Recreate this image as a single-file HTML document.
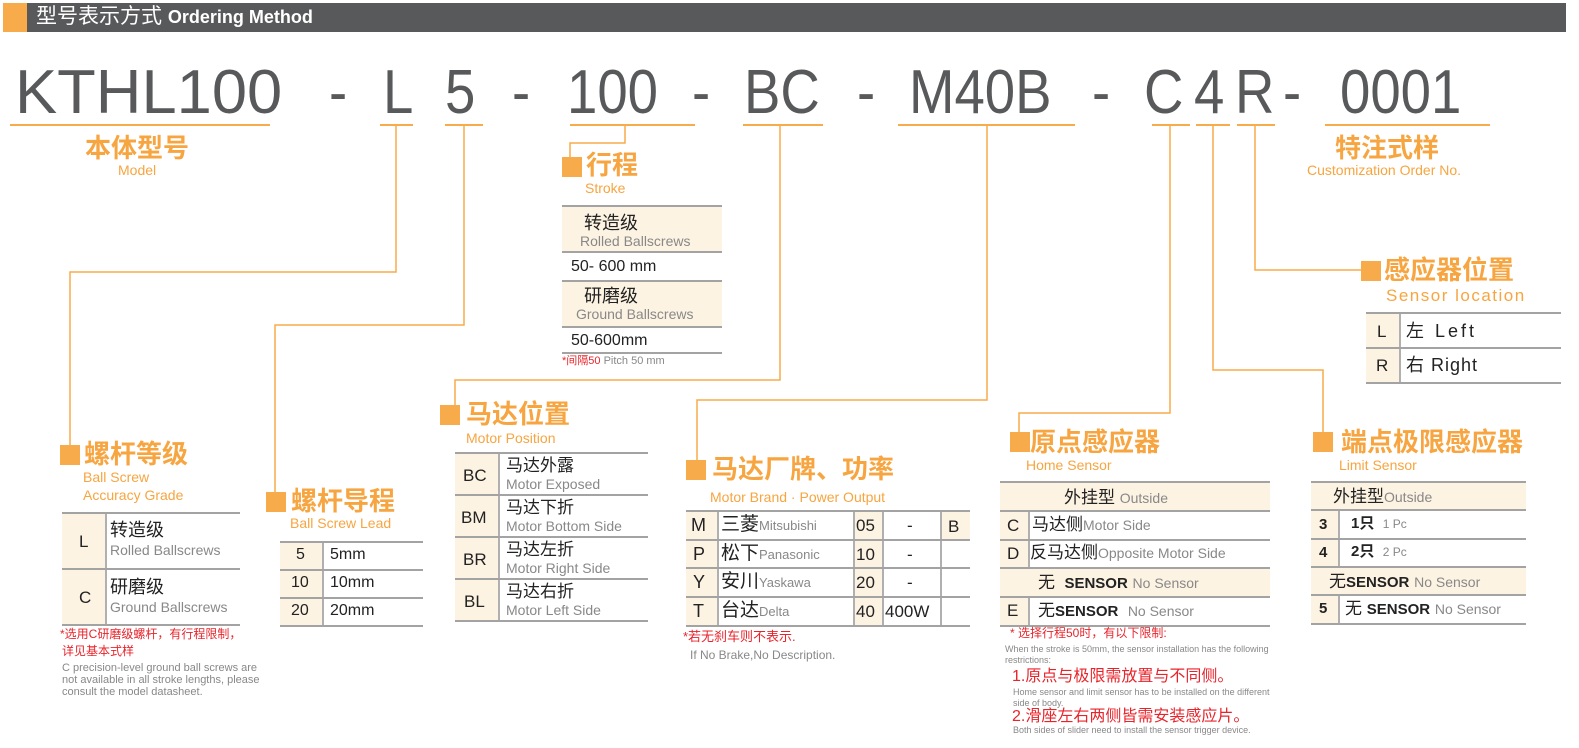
<!DOCTYPE html>
<html><head><meta charset="utf-8"><style>
*{margin:0;padding:0;box-sizing:border-box}
body{width:1579px;height:748px;background:#fff;position:relative;overflow:hidden;font-family:"Liberation Sans","Noto Sans CJK SC",sans-serif}
.t{position:absolute;white-space:nowrap;line-height:1}
.big{font-size:62px;color:#58595b;top:62px;transform:scaleX(0.88);transform-origin:left top}
.h{font-weight:bold;color:#f7a540;font-size:26px}
.e{color:#f7a540;font-size:14px}
.sq{position:absolute;width:20px;height:20px;background:#f8ab4a}
.tb{position:absolute;border-top:2px solid #a3a3a3}
.row{position:absolute;left:0;right:0;border-bottom:2px solid #a3a3a3}
.bg{position:absolute;background:#fdf3e3;top:0;bottom:0}
.vl{position:absolute;top:0;bottom:0;border-left:2px solid #b0b0b0}
.c{position:absolute;white-space:nowrap;line-height:1;color:#222}
.g{color:#888}
.red{color:#e8242b}
.sm{color:#888;font-size:11px;line-height:12px}
</style></head><body>
<div style="position:absolute;left:3px;top:3px;width:24px;height:29px;background:#f8ab4a"></div>
<div style="position:absolute;left:27px;top:3px;width:1539px;height:29px;background:#58595b"></div>
<div class="t" style="left:36px;top:6px;color:#fff;font-size:21px">型号表示方式 <b style="font-size:18px">Ordering Method</b></div>

<div class="t big" style="left:15px;transform:scaleX(1.02)">KTHL100</div>
<div class="t big" style="left:329px">-</div>
<div class="t big" style="left:383px">L</div>
<div class="t big" style="left:445px">5</div>
<div class="t big" style="left:512px">-</div>
<div class="t big" style="left:567px">100</div>
<div class="t big" style="left:692px">-</div>
<div class="t big" style="left:744px">BC</div>
<div class="t big" style="left:857px">-</div>
<div class="t big" style="left:909px">M40B</div>
<div class="t big" style="left:1092px">-</div>
<div class="t big" style="left:1144px">C</div>
<div class="t big" style="left:1194px">4</div>
<div class="t big" style="left:1235px">R</div>
<div class="t big" style="left:1283px">-</div>
<div class="t big" style="left:1340px">0001</div>

<svg width="1579" height="748" style="position:absolute;left:0;top:0" fill="none" stroke="#f8ab4a" stroke-width="2">
<path d="M10 125H270M380 125H413M445 125H483M570 125H695M743 125H823M898 125H1075M1152 125H1190M1196 125H1230M1237 125H1275M1325 125H1490" />
<path d="M396 125V272H70V448" stroke-width="1.5"/>
<path d="M464 125V325H275V492" stroke-width="1.5"/>
<path d="M625 125V143H570V160" stroke-width="1.5"/>
<path d="M780 125V380H455V406" stroke-width="1.5"/>
<path d="M987 125V400H697V462" stroke-width="1.5"/>
<path d="M1170 125V413H1019V434" stroke-width="1.5"/>
<path d="M1213 125V370H1323V434" stroke-width="1.5"/>
<path d="M1255 125V270H1362" stroke-width="1.5"/>
</svg>

<div class="t h" style="left:85px;top:135px">本体型号</div>
<div class="t e" style="left:118px;top:163px">Model</div>
<div class="t h" style="left:1335px;top:135px">特注式样</div>
<div class="t e" style="left:1307px;top:163px">Customization Order No.</div>

<!-- 螺杆等级 -->
<div class="sq" style="left:60px;top:445px"></div>
<div class="t h" style="left:84px;top:441px">螺杆等级</div>
<div class="t e" style="left:83px;top:470px">Ball Screw</div>
<div class="t e" style="left:83px;top:488px">Accuracy Grade</div>
<div class="tb" style="left:62px;top:512px;width:178px;height:114px">
 <div class="bg" style="left:0;width:43px"></div><div class="vl" style="left:43px"></div>
 <div class="row" style="top:0;height:56px"></div><div class="row" style="top:56px;height:56px"></div>
 <div class="c" style="left:17px;top:19px;font-size:17px">L</div>
 <div class="c" style="left:48px;top:7px;font-size:18px">转造级</div>
 <div class="c g" style="left:48px;top:29px;font-size:14px">Rolled Ballscrews</div>
 <div class="c" style="left:17px;top:75px;font-size:17px">C</div>
 <div class="c" style="left:48px;top:64px;font-size:18px">研磨级</div>
 <div class="c g" style="left:48px;top:86px;font-size:14px">Ground Ballscrews</div>
</div>
<div class="t red" style="left:60px;top:628px;font-size:12px">*选用C研磨级螺杆，有行程限制，</div>
<div class="t red" style="left:62px;top:645px;font-size:12px">详见基本式样</div>
<div class="t sm" style="left:62px;top:662px;white-space:normal;width:210px">C precision-level ground ball screws are not available in all stroke lengths, please consult the model datasheet.</div>

<!-- 螺杆导程 -->
<div class="sq" style="left:266px;top:492px"></div>
<div class="t h" style="left:291px;top:488px">螺杆导程</div>
<div class="t e" style="left:290px;top:516px">Ball Screw Lead</div>
<div class="tb" style="left:280px;top:541px;width:143px;height:85px">
 <div class="bg" style="left:0;width:42px"></div><div class="vl" style="left:42px"></div>
 <div class="row" style="top:0;height:28px"></div><div class="row" style="top:28px;height:28px"></div><div class="row" style="top:56px;height:28px"></div>
 <div class="c" style="left:16px;top:4px;font-size:16px">5</div><div class="c" style="left:50px;top:4px;font-size:16px">5mm</div>
 <div class="c" style="left:11px;top:32px;font-size:16px">10</div><div class="c" style="left:50px;top:32px;font-size:16px">10mm</div>
 <div class="c" style="left:11px;top:60px;font-size:16px">20</div><div class="c" style="left:50px;top:60px;font-size:16px">20mm</div>
</div>

<!-- 行程 -->
<div class="sq" style="left:562px;top:157px"></div>
<div class="t h" style="left:586px;top:152px">行程</div>
<div class="t e" style="left:585px;top:181px">Stroke</div>
<div class="tb" style="left:562px;top:205px;width:160px;height:147px">
 <div class="bg" style="left:0;right:0;top:0;height:45px;bottom:auto"></div>
 <div class="bg" style="left:0;right:0;top:75px;height:45px;bottom:auto"></div>
 <div class="row" style="top:0;height:46px"></div><div class="row" style="top:46px;height:29px"></div>
 <div class="row" style="top:75px;height:46px"></div><div class="row" style="top:121px;height:26px"></div>
 <div class="c" style="left:22px;top:7px;font-size:18px">转造级</div>
 <div class="c g" style="left:18px;top:27px;font-size:14px">Rolled Ballscrews</div>
 <div class="c" style="left:9px;top:52px;font-size:16px">50- 600 mm</div>
 <div class="c" style="left:22px;top:80px;font-size:18px">研磨级</div>
 <div class="c g" style="left:14px;top:100px;font-size:14px">Ground Ballscrews</div>
 <div class="c" style="left:9px;top:126px;font-size:16px">50-600mm</div>
</div>
<div class="t" style="left:562px;top:356px;font-size:11px"><span class="red">*间隔50</span> <span class="g">Pitch 50 mm</span></div>

<!-- 马达位置 -->
<div class="sq" style="left:440px;top:405px"></div>
<div class="t h" style="left:466px;top:401px">马达位置</div>
<div class="t e" style="left:466px;top:431px">Motor Position</div>
<div class="tb" style="left:455px;top:452px;width:193px;height:170px">
 <div class="bg" style="left:0;width:43px"></div><div class="vl" style="left:43px"></div>
 <div class="row" style="top:0;height:42px"></div><div class="row" style="top:42px;height:42px"></div><div class="row" style="top:84px;height:42px"></div><div class="row" style="top:126px;height:42px"></div>
 <div class="c" style="left:8px;top:13px;font-size:17px">BC</div><div class="c" style="left:51px;top:3px;font-size:17px">马达外露</div><div class="c g" style="left:51px;top:23px;font-size:14px">Motor Exposed</div>
 <div class="c" style="left:6px;top:55px;font-size:17px">BM</div><div class="c" style="left:51px;top:45px;font-size:17px">马达下折</div><div class="c g" style="left:51px;top:65px;font-size:14px">Motor Bottom Side</div>
 <div class="c" style="left:8px;top:97px;font-size:17px">BR</div><div class="c" style="left:51px;top:87px;font-size:17px">马达左折</div><div class="c g" style="left:51px;top:107px;font-size:14px">Motor Right Side</div>
 <div class="c" style="left:9px;top:139px;font-size:17px">BL</div><div class="c" style="left:51px;top:129px;font-size:17px">马达右折</div><div class="c g" style="left:51px;top:149px;font-size:14px">Motor Left Side</div>
</div>

<!-- 马达厂牌 -->
<div class="sq" style="left:686px;top:460px"></div>
<div class="t h" style="left:712px;top:456px">马达厂牌、功率</div>
<div class="t e" style="left:710px;top:490px">Motor Brand · Power Output</div>
<div class="tb" style="left:686px;top:510px;width:284px;height:115px">
 <div class="bg" style="left:0;width:31px"></div><div class="vl" style="left:31px"></div>
 <div class="bg" style="left:167px;width:29px"></div><div class="vl" style="left:167px"></div><div class="vl" style="left:196px"></div>
 <div class="bg" style="left:254px;width:30px;bottom:auto;height:28px"></div><div class="vl" style="left:254px"></div>
 <div class="row" style="top:0;height:29px"></div><div class="row" style="top:29px;height:28px"></div><div class="row" style="top:57px;height:29px"></div><div class="row" style="top:86px;height:29px"></div>
 <div class="c" style="left:5px;top:4px;font-size:18px">M</div><div class="c" style="left:35px;top:3px;font-size:19px">三菱<span class="g" style="font-size:13px">Mitsubishi</span></div>
 <div class="c" style="left:7px;top:33px;font-size:18px">P</div><div class="c" style="left:35px;top:32px;font-size:19px">松下<span class="g" style="font-size:13px">Panasonic</span></div>
 <div class="c" style="left:7px;top:61px;font-size:18px">Y</div><div class="c" style="left:35px;top:60px;font-size:19px">安川<span class="g" style="font-size:13px">Yaskawa</span></div>
 <div class="c" style="left:7px;top:90px;font-size:18px">T</div><div class="c" style="left:35px;top:89px;font-size:19px">台达<span class="g" style="font-size:13px">Delta</span></div>
 <div class="c" style="left:170px;top:5px;font-size:17px">05</div><div class="c" style="left:221px;top:5px;font-size:17px">-</div><div class="c" style="left:262px;top:6px;font-size:17px">B</div>
 <div class="c" style="left:170px;top:34px;font-size:17px">10</div><div class="c" style="left:221px;top:34px;font-size:17px">-</div>
 <div class="c" style="left:170px;top:62px;font-size:17px">20</div><div class="c" style="left:221px;top:62px;font-size:17px">-</div>
 <div class="c" style="left:170px;top:91px;font-size:17px">40</div><div class="c" style="left:199px;top:91px;font-size:17px">400W</div>
</div>
<div class="t red" style="left:683px;top:630px;font-size:13px">*若无刹车则不表示.</div>
<div class="t g" style="left:690px;top:649px;font-size:12px">If No Brake,No Description.</div>

<!-- 原点感应器 -->
<div class="sq" style="left:1010px;top:432px"></div>
<div class="t h" style="left:1030px;top:429px">原点感应器</div>
<div class="t e" style="left:1026px;top:458px">Home Sensor</div>
<div class="tb" style="left:1000px;top:481px;width:270px;height:144px">
 <div class="bg" style="left:0;right:0;bottom:auto;height:29px"></div>
 <div class="bg" style="left:0;right:0;top:86px;bottom:auto;height:28px"></div>
 <div class="bg" style="left:0;width:28px;top:29px;bottom:auto;height:57px"></div>
 <div class="bg" style="left:0;width:28px;top:114px"></div>
 <div class="vl" style="left:28px;top:29px;bottom:auto;height:57px"></div><div class="vl" style="left:28px;top:114px"></div>
 <div class="row" style="top:0;height:29px"></div><div class="row" style="top:29px;height:29px"></div><div class="row" style="top:58px;height:28px"></div><div class="row" style="top:86px;height:29px"></div><div class="row" style="top:115px;height:29px"></div>
 <div class="c" style="left:64px;top:6px;font-size:17px">外挂型 <span class="g" style="font-size:14px">Outside</span></div>
 <div class="c" style="left:7px;top:34px;font-size:17px">C</div><div class="c" style="left:32px;top:33px;font-size:17px">马达侧<span class="g" style="font-size:14px">Motor Side</span></div>
 <div class="c" style="left:7px;top:62px;font-size:17px">D</div><div class="c" style="left:30px;top:61px;font-size:17px">反马达侧<span class="g" style="font-size:14px">Opposite Motor Side</span></div>
 <div class="c" style="left:38px;top:91px;font-size:17px">无 &nbsp;<b style="font-size:15px">SENSOR</b> <span class="g" style="font-size:14px">No Sensor</span></div>
 <div class="c" style="left:7px;top:119px;font-size:17px">E</div><div class="c" style="left:38px;top:119px;font-size:17px">无<b style="font-size:15px">SENSOR</b> &nbsp;<span class="g" style="font-size:14px">No Sensor</span></div>
</div>
<div class="t red" style="left:1010px;top:627px;font-size:12px">* 选择行程50时，有以下限制:</div>
<div class="t" style="left:1005px;top:644px;font-size:9px;line-height:11px;color:#888;white-space:normal;width:275px">When the stroke is 50mm, the sensor installation has the following restrictions:</div>
<div class="t red" style="left:1012px;top:669px;font-size:16px">1.原点与极限需放置与不同侧。</div>
<div class="t" style="left:1013px;top:687px;font-size:9px;line-height:11px;color:#888;white-space:normal;width:270px">Home sensor and limit sensor has to be installed on the different side of body.</div>
<div class="t red" style="left:1012px;top:709px;font-size:16px">2.滑座左右两侧皆需安装感应片。</div>
<div class="t" style="left:1013px;top:726px;font-size:9px;color:#888">Both sides of slider need to install the sensor trigger device.</div>

<!-- 端点极限感应器 -->
<div class="sq" style="left:1313px;top:432px"></div>
<div class="t h" style="left:1341px;top:429px">端点极限感应器</div>
<div class="t e" style="left:1339px;top:458px">Limit Sensor</div>
<div class="tb" style="left:1311px;top:481px;width:215px;height:143px">
 <div class="bg" style="left:0;right:0;bottom:auto;height:28px"></div>
 <div class="bg" style="left:0;right:0;top:85px;bottom:auto;height:28px"></div>
 <div class="bg" style="left:0;width:27px;top:28px;bottom:auto;height:57px"></div>
 <div class="bg" style="left:0;width:27px;top:113px"></div>
 <div class="vl" style="left:27px;top:28px;bottom:auto;height:57px"></div><div class="vl" style="left:27px;top:113px"></div>
 <div class="row" style="top:0;height:28px"></div><div class="row" style="top:28px;height:29px"></div><div class="row" style="top:57px;height:28px"></div><div class="row" style="top:85px;height:28px"></div><div class="row" style="top:113px;height:29px"></div>
 <div class="c" style="left:22px;top:5px;font-size:17px">外挂型<span class="g" style="font-size:14px">Outside</span></div>
 <div class="c" style="left:8px;top:34px;font-size:15px;font-weight:bold">3</div><div class="c" style="left:40px;top:33px;font-size:15px"><b>1只</b> &nbsp;<span class="g" style="font-size:12px">1 Pc</span></div>
 <div class="c" style="left:8px;top:62px;font-size:15px;font-weight:bold">4</div><div class="c" style="left:40px;top:61px;font-size:15px"><b>2只</b> &nbsp;<span class="g" style="font-size:12px">2 Pc</span></div>
 <div class="c" style="left:18px;top:90px;font-size:17px">无<b style="font-size:15px">SENSOR</b> <span class="g" style="font-size:14px">No Sensor</span></div>
 <div class="c" style="left:8px;top:118px;font-size:15px;font-weight:bold">5</div><div class="c" style="left:34px;top:117px;font-size:17px">无 <b style="font-size:15px">SENSOR</b> <span class="g" style="font-size:14px">No Sensor</span></div>
</div>

<!-- 感应器位置 -->
<div class="sq" style="left:1361px;top:261px"></div>
<div class="t h" style="left:1384px;top:257px">感应器位置</div>
<div class="t" style="left:1386px;top:287px;font-size:17px;color:#f7a540;letter-spacing:1.5px">Sensor location</div>
<div class="tb" style="left:1366px;top:312px;width:195px;height:70px">
 <div class="bg" style="left:0;width:33px"></div><div class="vl" style="left:33px"></div>
 <div class="row" style="top:0;height:35px"></div><div class="row" style="top:35px;height:35px"></div>
 <div class="c" style="left:11px;top:9px;font-size:17px">L</div><div class="c" style="left:40px;top:8px;font-size:18px;letter-spacing:3px">左 Left</div>
 <div class="c" style="left:10px;top:43px;font-size:17px">R</div><div class="c" style="left:40px;top:42px;font-size:18px;letter-spacing:1px">右 Right</div>
</div>
</body></html>
